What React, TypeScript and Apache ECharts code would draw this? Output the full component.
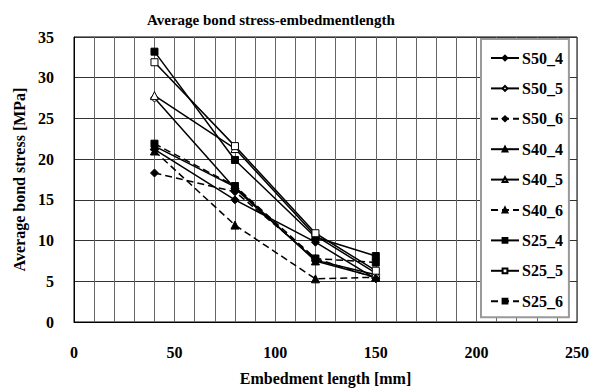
import React, { useEffect, useRef } from "react";
import * as echarts from "echarts";

// Embedment lengths [mm]
const lengths = [40, 80, 120, 150];

// Average bond stress [MPa] per specimen series
const s50_4 = [21.2, 15.0, 9.8, 5.3];
const s50_5 = [27.5, 16.4, 7.6, 5.8];
const s50_6 = [18.3, 16.0, 7.8, 5.4];
const s40_4 = [21.6, 16.6, 7.5, 5.5];
const s40_5 = [27.8, 21.3, 10.6, 6.0];
const s40_6 = [21.0, 11.9, 5.3, 5.5];
const s25_4 = [33.2, 19.9, 10.4, 8.1];
const s25_5 = [31.9, 21.6, 10.9, 6.3];
const s25_6 = [21.9, 16.7, 7.8, 7.3];

const seriesDefs = [
  { name: "S50_4", values: s50_4, symbol: "diamond", filled: true, dashed: false },
  { name: "S50_5", values: s50_5, symbol: "diamond", filled: false, dashed: false },
  { name: "S50_6", values: s50_6, symbol: "diamond", filled: true, dashed: true },
  { name: "S40_4", values: s40_4, symbol: "triangle", filled: true, dashed: false },
  { name: "S40_5", values: s40_5, symbol: "triangle", filled: false, dashed: false },
  { name: "S40_6", values: s40_6, symbol: "triangle", filled: true, dashed: true },
  { name: "S25_4", values: s25_4, symbol: "rect", filled: true, dashed: false },
  { name: "S25_5", values: s25_5, symbol: "rect", filled: false, dashed: false },
  { name: "S25_6", values: s25_6, symbol: "rect", filled: true, dashed: true },
];

const FONT = "Liberation Serif";

export default function App() {
  const ref = useRef<HTMLDivElement>(null);

  useEffect(() => {
    if (!ref.current) return;
    const chart = echarts.init(ref.current, null, { renderer: "svg" });

    const series = seriesDefs.map((s) => ({
      name: s.name,
      type: "line",
      data: lengths.map((x, i) => [x, s.values[i]]),
      symbol: s.symbol,
      symbolSize: s.symbol === "rect" ? 7 : 8,
      showSymbol: true,
      lineStyle: {
        color: "#000",
        width: 1.5,
        type: s.dashed ? [7, 4] : "solid",
      },
      itemStyle: {
        color: s.filled ? "#000" : "#fff",
        borderColor: "#000",
        borderWidth: 1,
      },
      z: 3,
    }));

    chart.setOption({
      animation: false,
      backgroundColor: "#fff",
      title: {
        text: "Average bond stress-embedmentlength",
        left: 142,
        top: 7,
        textStyle: {
          fontFamily: FONT,
          fontWeight: "bold",
          fontSize: 15,
          color: "#000",
        },
      },
      grid: {
        left: 74,
        right: 25,
        top: 37,
        bottom: 70,
        show: true,
        borderColor: "#000",
        borderWidth: 1,
      },
      legend: {
        orient: "vertical",
        left: 481,
        top: 39,
        padding: [11, 6, 8, 9],
        itemWidth: 28,
        itemHeight: 6,
        itemGap: 14.4,
        backgroundColor: "#fff",
        borderColor: "#999",
        borderWidth: 2,
        textStyle: {
          fontFamily: FONT,
          fontWeight: "bold",
          fontSize: 16,
          lineHeight: 16,
          color: "#000",
          padding: [0, 0, 0, -2],
        },
        data: seriesDefs.map((s) => s.name),
        z: 10,
      },
      xAxis: {
        type: "value",
        min: 0,
        max: 250,
        interval: 10,
        name: "Embedment length [mm]",
        nameLocation: "middle",
        nameGap: 48,
        nameTextStyle: {
          fontFamily: FONT,
          fontWeight: "bold",
          fontSize: 16,
          color: "#000",
        },
        axisLine: { show: true, lineStyle: { color: "#000", width: 1 } },
        axisTick: { show: false },
        axisLabel: {
          margin: 22,
          fontFamily: FONT,
          fontWeight: "bold",
          fontSize: 16,
          color: "#000",
          showMinLabel: true,
          showMaxLabel: true,
          formatter: (v: number) => (v % 50 === 0 ? String(v) : ""),
        },
        splitLine: { show: true, lineStyle: { color: "#666", width: 1 } },
      },
      yAxis: {
        type: "value",
        min: 0,
        max: 35,
        interval: 5,
        name: "Average bond stress [MPa]",
        nameLocation: "middle",
        nameGap: 46,
        nameTextStyle: {
          fontFamily: FONT,
          fontWeight: "bold",
          fontSize: 16,
          color: "#000",
        },
        axisLine: { show: true, lineStyle: { color: "#000", width: 1 } },
        axisTick: { show: false },
        axisLabel: {
          margin: 20,
          fontFamily: FONT,
          fontWeight: "bold",
          fontSize: 16,
          color: "#000",
        },
        splitLine: { show: true, lineStyle: { color: "#333", width: 1 } },
      },
      series,
    });

    return () => chart.dispose();
  }, []);

  return (
    <div
      ref={ref}
      style={{ position: "fixed", left: 0, top: 0, width: 602, height: 392 }}
    />
  );
}
